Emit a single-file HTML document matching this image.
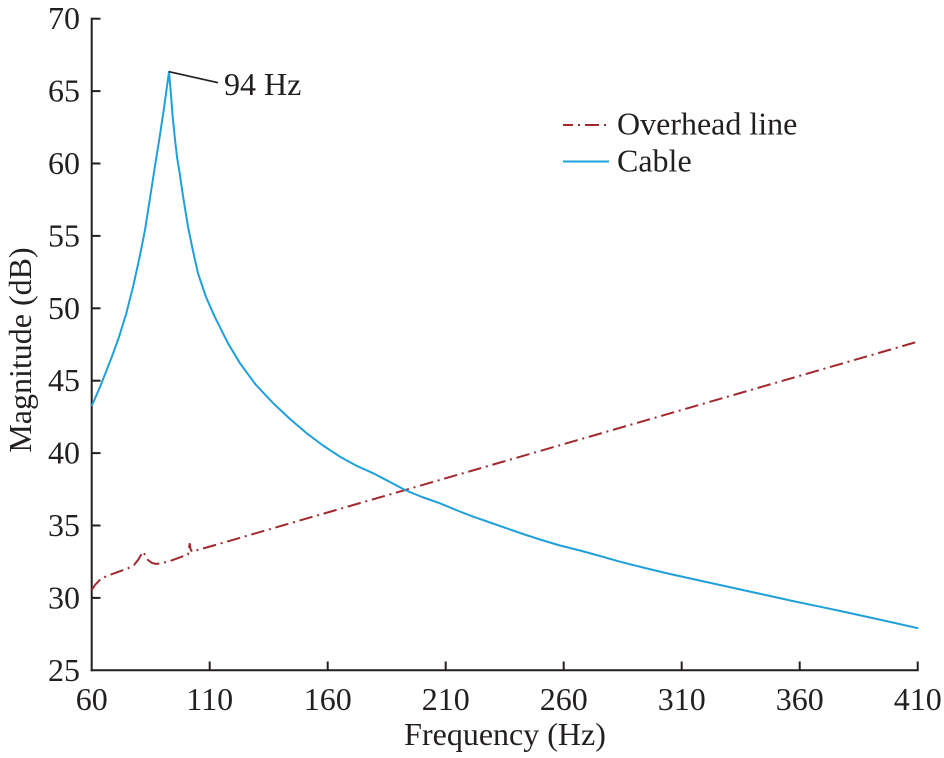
<!DOCTYPE html>
<html>
<head>
<meta charset="utf-8">
<style>
  html, body { margin: 0; padding: 0; background: #ffffff; }
  svg { display: block; }
  text { font-family: "Liberation Serif", "Times New Roman", serif; fill: #231f20; font-size: 32px; }
</style>
</head>
<body>
<svg width="944" height="758" viewBox="0 0 944 758" xmlns="http://www.w3.org/2000/svg">
  <rect width="944" height="758" fill="#ffffff"/>

  <!-- Axes -->
  <g stroke="#231f20" stroke-width="2" fill="none">
    <line x1="91.7" y1="17.7" x2="91.7" y2="671.3"/>
    <line x1="90.7" y1="670.3" x2="918.7" y2="670.3"/>
    <!-- y ticks -->
    <line x1="91.7" y1="18.7" x2="100.5" y2="18.7"/>
    <line x1="91.7" y1="91.1" x2="100.5" y2="91.1"/>
    <line x1="91.7" y1="163.5" x2="100.5" y2="163.5"/>
    <line x1="91.7" y1="235.9" x2="100.5" y2="235.9"/>
    <line x1="91.7" y1="308.3" x2="100.5" y2="308.3"/>
    <line x1="91.7" y1="380.7" x2="100.5" y2="380.7"/>
    <line x1="91.7" y1="453.1" x2="100.5" y2="453.1"/>
    <line x1="91.7" y1="525.5" x2="100.5" y2="525.5"/>
    <line x1="91.7" y1="597.9" x2="100.5" y2="597.9"/>
    <!-- x ticks -->
    <line x1="209.7" y1="670.3" x2="209.7" y2="661.5"/>
    <line x1="327.7" y1="670.3" x2="327.7" y2="661.5"/>
    <line x1="445.7" y1="670.3" x2="445.7" y2="661.5"/>
    <line x1="563.7" y1="670.3" x2="563.7" y2="661.5"/>
    <line x1="681.7" y1="670.3" x2="681.7" y2="661.5"/>
    <line x1="799.7" y1="670.3" x2="799.7" y2="661.5"/>
    <line x1="917.7" y1="670.3" x2="917.7" y2="661.5"/>
  </g>

  <!-- Y tick labels -->
  <g text-anchor="end">
    <text x="80" y="29.2">70</text>
    <text x="80" y="101.6">65</text>
    <text x="80" y="174">60</text>
    <text x="80" y="246.4">55</text>
    <text x="80" y="318.8">50</text>
    <text x="80" y="391.2">45</text>
    <text x="80" y="463.6">40</text>
    <text x="80" y="536">35</text>
    <text x="80" y="608.4">30</text>
    <text x="80" y="680.8">25</text>
  </g>

  <!-- X tick labels -->
  <g text-anchor="middle">
    <text x="91.7" y="710">60</text>
    <text x="209.7" y="710">110</text>
    <text x="327.7" y="710">160</text>
    <text x="445.7" y="710">210</text>
    <text x="563.7" y="710">260</text>
    <text x="681.7" y="710">310</text>
    <text x="799.7" y="710">360</text>
    <text x="917.7" y="710">410</text>
  </g>

  <!-- Axis labels -->
  <text x="505" y="745" text-anchor="middle">Frequency (Hz)</text>
  <text transform="translate(31,350) rotate(-90)" text-anchor="middle">Magnitude (dB)</text>

  <!-- Overhead line (dash-dot) -->
  <polyline fill="none" stroke="#a3282e" stroke-width="2" stroke-dasharray="13.5 4.8 2 4.8"
    points="91.7,590 95,585 101.3,578.3 115,573 128,568.3 134,565 138,560 141,555 143,551.7 145,555 148,560 152,563 156.3,564 162,563 168,561.7 188,554.5 189,549 189.7,543.3 190.5,549 192,551.7 918.3,341.5"/>

  <!-- Cable -->
  <polyline fill="none" stroke="#1fa0da" stroke-width="2" stroke-linejoin="round"
    points="91.7,406 100,387 111.3,358.3 119,337 126.3,313.3 133,287 139.7,256.7 145,230 149.7,200 155,166 159.7,136.7 164,108 169,71.7 171,95 172.5,115 174.7,136.7 177,157 179.7,173.3 183,196 188,226.7 193,251 198,273.3 206,297 214.7,316.7 228,343.3 240,363.3 256,385 273.3,403.3 290,419 306.7,433.3 323,445.5 340,456.7 356,465.5 373.3,473.3 390,482 405,490 422,497 440,503.3 456,510 473.3,516.7 490,522.5 506.7,528.3 523,534 540,539.5 560,545.5 580,550.5 600,556 620,561.7 645,568 670,574 695,579.5 720,585 745,590.5 770,596 795,601.5 820,606.7 845,612 870,617.5 895,623 918.3,628.3"/>

  <!-- Peak annotation -->
  <line x1="169" y1="71.7" x2="218" y2="82.7" stroke="#231f20" stroke-width="1.6"/>
  <text x="224" y="95">94 Hz</text>

  <!-- Legend -->
  <line x1="563" y1="125" x2="609" y2="125" stroke="#a3282e" stroke-width="2" stroke-dasharray="10 5 2 5 14 5 2 5"/>
  <text x="617" y="134.5">Overhead line</text>
  <line x1="563" y1="161.5" x2="609" y2="161.5" stroke="#1fa0da" stroke-width="2"/>
  <text x="617" y="171.5">Cable</text>
</svg>
</body>
</html>
